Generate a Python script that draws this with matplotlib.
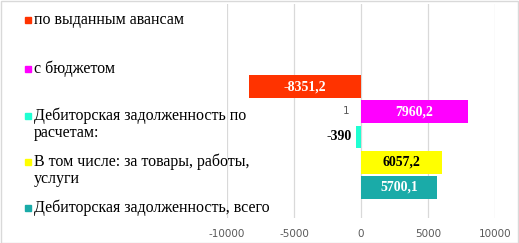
import matplotlib.pyplot as plt
from matplotlib.patches import Rectangle

# series from bottom bar to top bar (Excel draws series 1 at the bottom)
series = ['Дебиторская задолженность, всего',
          'В том числе: за товары, работы,\nуслуги',
          'Дебиторская задолженность по\nрасчетам:',
          'с бюджетом',
          'по выданным авансам']
values = [5700.1, 6057.2, -390.0, 7960.2, -8351.2]
colors = ['#1aaba8', '#ffff00', '#1fffd2', '#ff00ff', '#ff3300']
label_colors = ['white', 'black', 'black', 'white', 'white']
category = '1'
xticks = [-10000, -5000, 0, 5000, 10000]

W, H = 519, 243
fig = plt.figure(figsize=(W / 100, H / 100), dpi=100)
ax = fig.add_axes([227 / W, 1 - 218 / H, (495 - 227) / W, (218 - 4) / H])

pos = list(range(len(values)))
ax.barh(pos, values, height=0.91, color=colors, zorder=2)

for i, v in enumerate(values):
    txt = ('%.1f' % v).replace('.', ',')
    if txt.endswith(',0'):
        txt = txt[:-2]
    if abs(v) < 1000:
        ax.annotate(txt, (v, i), xytext=(-3, 0), textcoords='offset points',
                    ha='right', va='center', fontsize=10, fontweight='bold',
                    family='Liberation Serif', color=label_colors[i], zorder=3)
    else:
        ax.text(v / 2, i, txt, ha='center', va='center', fontsize=10,
                fontweight='bold', family='Liberation Serif',
                color=label_colors[i], zorder=3)

# category label sits next to the vertical axis at zero
ax.annotate(category, (0, 3.03), xytext=(-8, 0), textcoords='offset points',
            ha='right', va='center', fontsize=7.5, color='#595959')

ax.set_xlim(-10000, 10000)
ax.set_ylim(-1.21, 7.27)
ax.set_xticks(xticks)
ax.set_xticklabels([str(t) for t in xticks])
ax.set_yticks([])
ax.tick_params(axis='x', length=0, pad=8, labelsize=7.5, labelcolor='#595959')
ax.grid(axis='x', color='#d9d9d9', linewidth=0.9, zorder=0)
for s in ax.spines.values():
    s.set_visible(False)
ax.set_facecolor('none')

# legend drawn on the left, over the plot area (top to bottom)
leg_y = [20, 69, 116, 162, 208]
for k, yy in enumerate(leg_y):
    i = len(series) - 1 - k
    fig.patches.append(Rectangle((25 / W, 1 - (yy + 3) / H), 6 / W, 6 / H,
                                 transform=fig.transFigure, color=colors[i],
                                 zorder=5))
    fig.text(34 / W, 1 - (yy - 8.5) / H, series[i], ha='left', va='top',
             fontsize=11.5, family='Liberation Serif', color='black',
             linespacing=1.05, zorder=5)

fig.patches.append(Rectangle((0.5 / W, 0.5 / H), (W - 1.5) / W, (H - 1.5) / H,
                             transform=fig.transFigure, fill=False,
                             edgecolor='#d9d9d9', linewidth=1))

fig.savefig('out.png', dpi=100)
